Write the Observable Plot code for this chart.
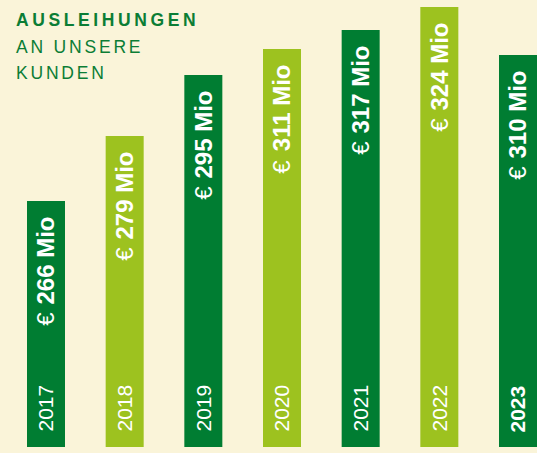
<!DOCTYPE html>
<html>
<head>
<meta charset="utf-8">
<script src="https://cdn.jsdelivr.net/npm/d3@7"></script>
<script src="https://cdn.jsdelivr.net/npm/@observablehq/plot@0.6"></script>
<style>
  html, body { margin: 0; padding: 0; background: #faf4d9; }
  #wrap { position: relative; width: 537px; height: 453px; overflow: hidden; }
  #title { position: absolute; left: 16px; top: 7px; font-family: "Liberation Sans", Arial, sans-serif;
           font-size: 17.5px; line-height: 26.5px; color: #0b7d35; z-index: 2; }
  #title .b { font-weight: bold; letter-spacing: 3.6px; }
  #title .r { letter-spacing: 2.8px; }
</style>
</head>
<body>
<div id="wrap">
  <div id="title"><div class="b">AUSLEIHUNGEN</div><div class="r">AN UNSERE</div><div class="r">KUNDEN</div></div>
  <div id="chart"></div>
</div>
<script>
const years = ["2017", "2018", "2019", "2020", "2021", "2022", "2023"];
const values = [266, 279, 295, 311, 317, 324, 310];
const currency = "€";
const unit = "Mio";
const shades = ["dark", "light", "dark", "light", "dark", "light", "dark"];
const highlight = [false, false, false, false, false, false, true];

const data = years.map((year, i) => ({
  year, value: values[i], amount: `${values[i]} ${unit}`, shade: shades[i], bold: highlight[i]
}));

// The bars in the original are not drawn to a linear scale; a piecewise
// scale reproduces their drawn lengths.
const sorted = [...values].sort((a, b) => a - b);
const drawnTops = {266: 201, 279: 136, 295: 75, 310: 55, 311: 49, 317: 30, 324: 7};

const font = "Liberation Sans, Arial, sans-serif";
const chart = Plot.plot({
  width: 537,
  height: 453,
  margin: 0,
  style: { background: "transparent", fontFamily: font },
  x: { type: "band", domain: years, range: [27, 537], paddingInner: 0.517, paddingOuter: 0, round: false, axis: null },
  y: { type: "linear", domain: [0, ...sorted], range: [447, ...sorted.map(v => drawnTops[v])], axis: null },
  color: { domain: ["dark", "light"], range: ["#007d32", "#9dc21f"] },
  marks: [
    Plot.barY(data, { x: "year", y: "value", fill: "shade" }),
    Plot.text(data, {
      x: "year", y: "value", text: "amount", rotate: -90, textAnchor: "end", lineAnchor: "middle",
      dy: 15, fill: "white", fontSize: 24, fontWeight: "bold"
    }),
    Plot.text(data, {
      x: "year", y: "value", text: () => currency, rotate: -90, textAnchor: "end", lineAnchor: "middle",
      dy: 111, fill: "white", fontSize: 24
    }),
    Plot.text(data.filter(d => !d.bold), {
      x: "year", y: () => 0, text: "year", rotate: -90, textAnchor: "start", lineAnchor: "middle",
      dy: -16, fill: "white", fontSize: 21
    }),
    Plot.text(data.filter(d => d.bold), {
      x: "year", y: () => 0, text: "year", rotate: -90, textAnchor: "start", lineAnchor: "middle",
      dy: -15, fill: "white", fontSize: 21, fontWeight: "bold"
    })
  ]
});
document.getElementById("chart").appendChild(chart);
</script>
</body>
</html>
